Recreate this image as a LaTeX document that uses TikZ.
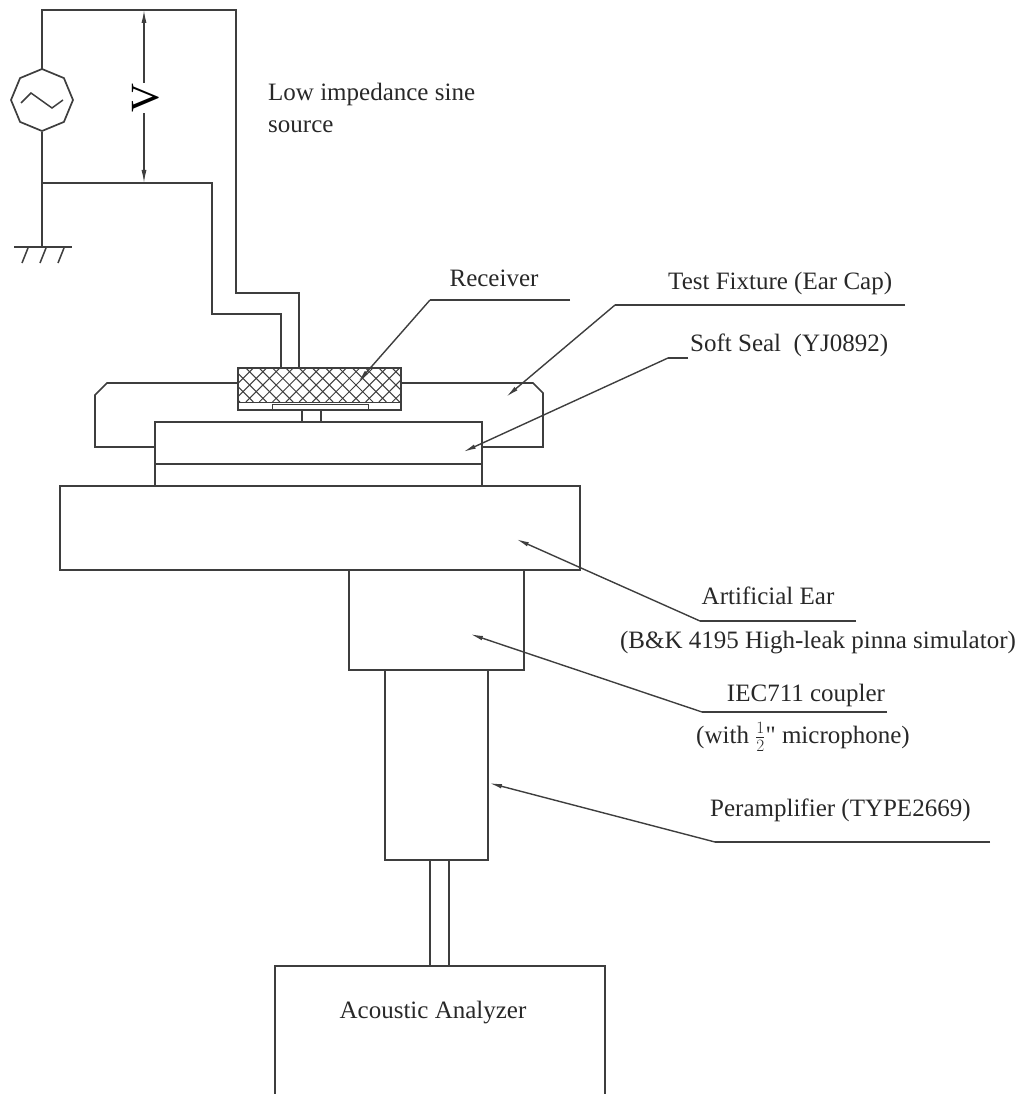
\documentclass[tikz,border=0pt]{standalone}
\usepackage{fontspec}
\setmainfont{Liberation Serif}
\usetikzlibrary{arrows.meta}
\definecolor{ln}{RGB}{62,62,62}
\definecolor{tx}{RGB}{40,40,40}
\begin{document}
\begin{tikzpicture}[x=1pt,y=-1pt,
  wire/.style={draw=ln,line width=1.7pt},
  part/.style={draw=ln,line width=1.7pt},
  lead/.style={draw=ln,line width=1.4pt,-{Latex[length=13pt,width=4.5pt]}},
  uline/.style={draw=ln,line width=1.7pt},
  lbl/.style={text=tx,inner sep=0pt,font=\fontsize{25}{32}\selectfont},
  volt/.style={draw=ln,line width=1.3pt,{Latex[length=13pt,width=5pt]}-{Latex[length=13pt,width=5pt]}}]
\useasboundingbox (0,0) rectangle (1023,1094);
% ---------- circuit ----------
\coordinate (st) at (42,10);
\coordinate (sb) at (42,132);
\coordinate (stop) at (42,69);
\draw[wire] (42,100) +(90:31pt) -- +(135:31pt) -- +(180:31pt) -- +(225:31pt) -- +(270:31pt) -- +(315:31pt) -- +(0:31pt) -- +(45:31pt) -- cycle;
\draw[draw=ln,line width=1.5pt] (21,103) -- (31,93) -- (52,108) -- (63,100);
\draw[wire] (stop) -- (st) -- (236,10) -- (236,293) -- (299,293) -- (299,368);
\draw[wire] (sb) -- (42,247);
\draw[wire] (42,183) -- (212,183) -- (212,314) -- (281,314) -- (281,368);
% ground
\draw[wire] (14,247) -- (72,247);
\foreach \gx in {28,46,64} \draw[draw=ln,line width=1.5pt] (\gx,248) -- (\gx-6,263);
% voltmeter
\coordinate (vt) at (144,10);
\coordinate (vb) at (144,183);
\draw[volt] (vt) -- (vb);
\node[fill=white,inner sep=1pt,text=black,rotate=90,font=\fontsize{40}{40}\selectfont] (vv) at (146,98) {V};
\node[lbl,anchor=west,align=left] (src) at (268,108) {Low impedance sine\\source};
% ---------- receiver ----------
\begin{scope}
\clip (238,368) rectangle (401,402);
\foreach \i in {-60,-46.7,...,420} {
  \draw[draw=ln,line width=1pt] (\i,368) -- (\i+34,402);
  \draw[draw=ln,line width=1pt] (\i,402) -- (\i+34,368);
}
\end{scope}
\draw[part] (238,368) rectangle (401,410);
\draw[draw=ln,line width=1pt] (238,402) -- (401,402);
\draw[draw=ln,line width=1pt] (272,404) rectangle (368,409);
\draw[part] (302,410) -- (302,422);
\draw[part] (321,410) -- (321,422);
% ---------- test fixture ----------
\draw[part] (238,383) -- (107,383) -- (95,395) -- (95,447) -- (155,447);
\draw[part] (401,383) -- (533,383) -- (543,393) -- (543,447) -- (482,447);
% soft seal
\draw[part] (155,422) rectangle (482,486);
\draw[part] (155,464) -- (482,464);
% artificial ear
\draw[part] (60,486) rectangle (580,570);
% coupler
\draw[part] (349,570) rectangle (524,670);
% preamp
\draw[part] (385,670) rectangle (488,860);
% cable
\draw[part] (430,860) -- (430,966);
\draw[part] (449,860) -- (449,966);
% analyzer
\draw[part] (275,1094) -- (275,966) -- (605,966) -- (605,1094);
\node[lbl] (an) at (433,1013) {Acoustic Analyzer};
% ---------- labels ----------
\node[lbl] (rec) at (494,278) {Receiver};
\coordinate (recA) at (430,300);
\coordinate (recB) at (570,300);
\coordinate (recT) at (358,382);
\draw[uline] (recB) -- (recA);
\draw[lead] (recA) -- (recT);

\node[lbl,anchor=west] (tf) at (668,283) {Test Fixture (Ear Cap)};
\coordinate (tfA) at (615,305);
\coordinate (tfB) at (905,305);
\coordinate (tfT) at (506,397);
\draw[uline] (tfB) -- (tfA);
\draw[lead] (tfA) -- (tfT);

\node[lbl,anchor=west] (ss) at (690,345) {Soft Seal\ \ (YJ0892)};
\coordinate (ssA) at (668,358);
\coordinate (ssB) at (688,358);
\coordinate (ssT) at (463,452);
\draw[uline] (ssB) -- (ssA);
\draw[lead] (ssA) -- (ssT);

\node[lbl] (ae) at (768,596) {Artificial Ear};
\node[lbl] (ae2) at (818,643) {(B\&K 4195 High-leak pinna simulator)};
\coordinate (aeA) at (700,621);
\coordinate (aeB) at (856,621);
\coordinate (aeT) at (516,539);
\draw[uline] (aeB) -- (aeA);
\draw[lead] (aeA) -- (aeT);

\node[lbl] (iec) at (806,695) {IEC711 coupler};
\node[lbl] (iec2) at (803,737) {(with $\frac{1}{2}${\addfontfeature{Ligatures=TeXOff}"} microphone)};
\coordinate (iecA) at (702,712);
\coordinate (iecB) at (887,712);
\coordinate (iecT) at (470,634);
\draw[uline] (iecB) -- (iecA);
\draw[lead] (iecA) -- (iecT);

\node[lbl,anchor=west] (pa) at (710,810) {Peramplifier (TYPE2669)};
\coordinate (paA) at (715,842);
\coordinate (paB) at (990,842);
\coordinate (paT) at (489,783);
\draw[uline] (paB) -- (paA);
\draw[lead] (paA) -- (paT);
\end{tikzpicture}
\end{document}
